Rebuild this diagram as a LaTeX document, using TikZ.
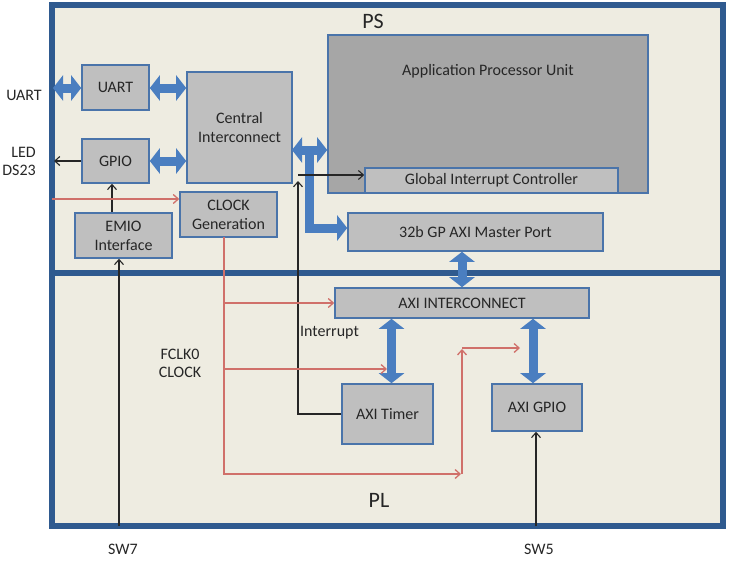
\documentclass[tikz,border=0pt]{standalone}
\usepackage{fontspec}
\setmainfont{Carlito}
\usetikzlibrary{arrows.meta}
\definecolor{bg}{HTML}{EEECE1}
\definecolor{frameblue}{HTML}{2F5A8F}
\definecolor{boxblue}{HTML}{4A74AA}
\definecolor{boxgray}{HTML}{BFBFBF}
\definecolor{apugray}{HTML}{A6A6A6}
\definecolor{arrowblue}{HTML}{4A7EC0}
\definecolor{redline}{HTML}{D0706A}
\definecolor{txt}{HTML}{262626}
\begin{document}
\begin{tikzpicture}[x=1pt,y=-1pt, font=\fontsize{16}{19}\selectfont, text=txt,
 box/.style={draw=boxblue, fill=boxgray, line width=1.6pt, inner sep=0pt, align=center},
 barrow/.style={draw=arrowblue, line width=9pt, {Triangle[length=10pt,width=25pt]}-{Triangle[length=10pt,width=25pt]}},
 bsingle/.style={draw=arrowblue, line width=9pt, line join=miter, -{Triangle[length=10pt,width=25pt]}},
 blk/.style={draw=black!85, line width=1.1pt, -{Straight Barb[length=5pt,width=9pt]}},
 redarr/.style={draw=redline, line width=1.3pt, -{Straight Barb[length=5pt,width=9pt]}},
 lbl/.style={inner sep=0pt, align=center},
 big/.style={font=\fontsize{22}{24}\selectfont}]
\useasboundingbox (0,0) rectangle (736,560);
% frame
\draw[frameblue, line width=6pt, fill=bg] (52,4.5) rectangle (723,526);
\draw[frameblue, line width=6pt] (52,272.5) -- (723,272.5);
% boxes
\node[box, minimum width=67pt, minimum height=45pt] (uart) at (115.5,87.5) {UART};
\node[box, minimum width=67pt, minimum height=44pt] (gpio) at (115.5,161) {GPIO};
\node[box, minimum width=105pt, minimum height=111pt] (ci) at (239.5,127.5) {Central\\Interconnect};
\node[box, minimum width=97pt, minimum height=45pt] (clk) at (228.5,214.5) {CLOCK\\Generation};
\node[box, minimum width=97pt, minimum height=45pt] (emio) at (123.5,235.5) {EMIO\\Interface};
\node[box, fill=apugray, minimum width=320pt, minimum height=158pt,
  label={[lbl, anchor=north, yshift=-30pt]north:Application Processor Unit}] (apu) at (488,114) {};
\node[box, minimum width=253pt, minimum height=25pt] (gic) at (491.5,180.5) {Global Interrupt Controller};
\node[box, minimum width=255pt, minimum height=38pt] (gp) at (475.5,232) {32b GP AXI Master Port};
\node[box, minimum width=254pt, minimum height=30pt] (axii) at (462,303) {AXI INTERCONNECT};
\node[box, minimum width=91pt, minimum height=60pt] (timer) at (387.5,414) {AXI Timer};
\node[box, minimum width=90pt, minimum height=47pt] (agpio) at (537,407.5) {AXI GPIO};
% labels
\node[lbl, big] (ps) at (373,21) {PS};
\node[lbl, big] (pl) at (379,500) {PL};
\node[lbl] (uartlbl) at (24,95) {UART};
\node[lbl, align=right, anchor=east, font=\fontsize{16}{18}\selectfont] (ledlbl) at (36,161) {LED\\DS23};
\node[lbl, anchor=west] (intlbl) at (300,333) {Interrupt};
\node[lbl, font=\fontsize{16}{18}\selectfont] (fclk) at (180,363) {FCLK0\\CLOCK};
\node[lbl] (sw7) at (123,549) {SW7};
\node[lbl] (sw5) at (539,549) {SW5};
% blue block arrows
\coordinate (uext) at (53,88);
\draw[barrow] (uext) -- (uext -| uart.west);
\draw[barrow] (uart.east |- uext) -- (uext -| ci.west);
\draw[barrow] (gpio.east) -- (gpio.east -| ci.west);
\coordinate (lstart) at (309,150);
\coordinate (lturn) at (309,228);
\draw[bsingle] (lstart) -- (lturn) -- (lturn -| gp.west);
\coordinate (ciA) at (292,150);
\draw[barrow] (ciA) -- (ciA -| apu.west);
\draw[barrow] (axii.north |- gp.south) -- (axii.north);
\coordinate (tA) at ([xshift=4pt]timer.north);
\draw[barrow] (tA) -- (tA |- axii.south);
\coordinate (gA) at ([xshift=-4pt]agpio.north);
\draw[barrow] (gA) -- (gA |- axii.south);
% black arrows
\coordinate (led) at (54,161);
\draw[blk] (gpio.west) -- (led);
\coordinate (eT) at ([xshift=-11.5pt]emio.north);
\draw[blk] (eT) -- (eT |- gpio.south);
\coordinate (sw7b) at (119,526);
\draw[blk] (sw7b) -- (sw7b |- emio.south);
\coordinate (sw5b) at (536,526);
\draw[blk] (sw5b) -- (sw5b |- agpio.south);
\coordinate (intUp) at (298,181);
\draw[blk] (timer.west) -| (intUp);
\coordinate (intH) at (298,175);
\draw[blk] (intH) -- (intH -| gic.west);
% red clock lines
\coordinate (rin) at (52,199);
\draw[redarr] (rin) -- (rin -| clk.west);
\coordinate (rtop) at (224,237);
\coordinate (rbot) at (224,474);
\coordinate (rend) at (461,474);
\draw[redarr] (rtop) -- (rbot) -- (rend);
\coordinate (r1) at (224,303);
\draw[redarr] (r1) -- (r1 -| axii.west);
\coordinate (r2) at (224,369);
\coordinate (r2e) at (387,369);
\draw[redarr] (r2) -- (r2e);
\coordinate (rv1) at (462,474);
\coordinate (rv2) at (462,349);
\draw[redarr] (rv1) -- (rv2);
\coordinate (rh1) at (462,348);
\coordinate (rh2) at (520,348);
\draw[redarr] (rh1) -- (rh2);
\end{tikzpicture}
\end{document}
